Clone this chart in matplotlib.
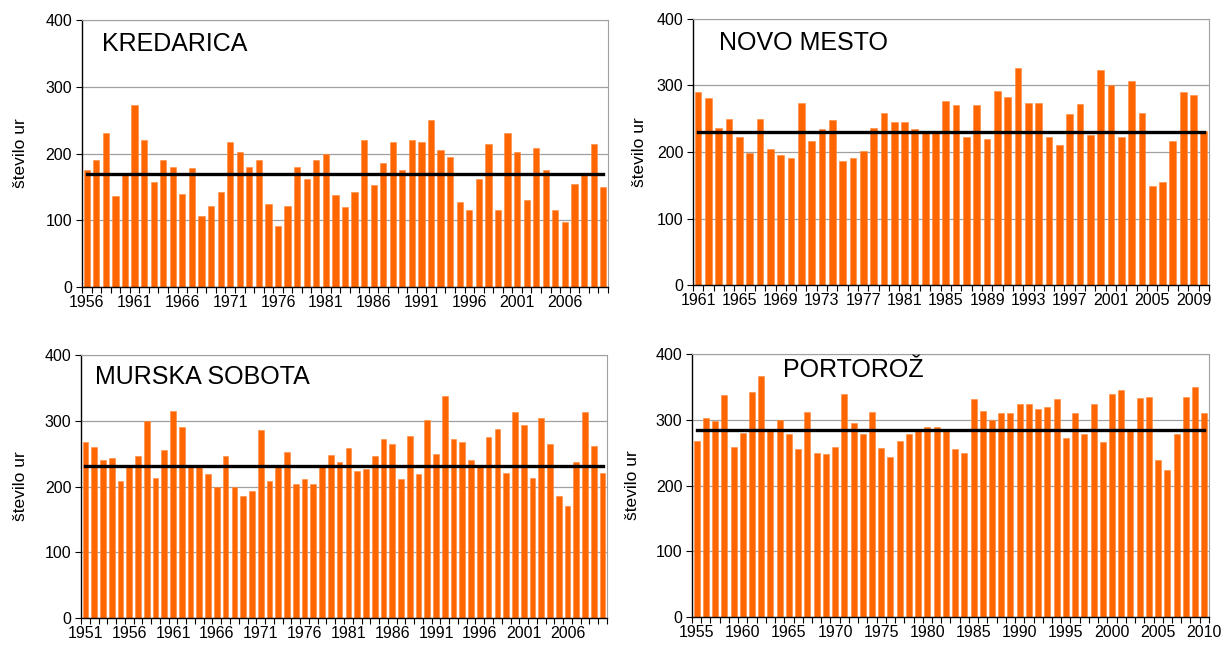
import matplotlib.pyplot as plt
import numpy as np

plt.rcParams['font.family'] = ['Liberation Sans', 'DejaVu Sans']

# sunshine hours (število ur)
kredarica_years = list(range(1956, 2011))
kredarica = [175, 191, 231, 136, 168, 273, 220, 158, 190, 180,
             140, 178, 107, 122, 142, 218, 202, 180, 190, 125,
             92, 122, 180, 162, 191, 200, 138, 120, 142, 220,
             153, 186, 218, 176, 220, 218, 250, 206, 195, 128,
             115, 162, 215, 116, 230, 202, 130, 208, 175, 115,
             97, 155, 171, 215, 150]
kredarica_mean = 169

novo_mesto_years = list(range(1961, 2011))
novo_mesto = [290, 281, 236, 250, 223, 198, 250, 205, 195, 191,
              274, 216, 234, 248, 187, 191, 202, 236, 259, 245,
              245, 234, 229, 229, 277, 270, 223, 270, 220, 292,
              283, 326, 274, 274, 223, 210, 257, 272, 225, 323,
              301, 223, 307, 259, 149, 155, 216, 290, 285, 232]
novo_mesto_mean = 230

murska_years = list(range(1951, 2011))
murska = [267, 260, 240, 243, 209, 231, 246, 299, 213, 255,
          315, 291, 231, 233, 219, 200, 246, 200, 186, 193,
          286, 208, 231, 253, 204, 211, 204, 231, 248, 237,
          258, 224, 226, 246, 273, 264, 211, 277, 219, 301,
          249, 337, 272, 268, 240, 231, 275, 287, 220, 313,
          293, 213, 304, 264, 186, 171, 237, 313, 262, 220]
murska_mean = 231

portoroz_years = list(range(1955, 2011))
portoroz = [268, 302, 298, 337, 258, 280, 342, 366, 283, 300,
            278, 255, 312, 249, 248, 258, 339, 295, 278, 312,
            257, 244, 268, 278, 285, 289, 289, 284, 255, 249,
            331, 313, 299, 310, 310, 324, 324, 317, 320, 331,
            273, 310, 278, 324, 266, 339, 346, 283, 333, 335,
            239, 224, 278, 335, 350, 310]
portoroz_mean = 285

panels = [
    ("KREDARICA", kredarica_years, kredarica, kredarica_mean, 1956, 5,
     [0.0669, 0.5557, 0.4294, 0.4133], (0.038, 0.91), -0.103),
    ("NOVO MESTO", novo_mesto_years, novo_mesto, novo_mesto_mean, 1961, 4,
     [0.5657, 0.5588, 0.4212, 0.4118], (0.05, 0.91), -0.09),
    ("MURSKA SOBOTA", murska_years, murska, murska_mean, 1951, 5,
     [0.0661, 0.0433, 0.4294, 0.4071], (0.027, 0.915), -0.101),
    ("PORTOROŽ", portoroz_years, portoroz, portoroz_mean, 1955, 5,
     [0.5649, 0.0449, 0.4220, 0.4071], (0.176, 0.94), -0.10),
]

fig = plt.figure(figsize=(12.25, 6.46), dpi=100)

for name, years, vals, mean, first_lab, step, rect, tpos, ylab_x in panels:
    ax = fig.add_axes(rect)
    ax.bar(years, vals, width=0.65, color='#ff6600', edgecolor='#ff8a3d',
           linewidth=0.4, zorder=2)
    ax.plot([years[0], years[-1]], [mean, mean], color='black', lw=2.4, zorder=3)

    ax.set_xlim(years[0] - 0.5, years[-1] + 0.5)
    ax.set_ylim(0, 400)
    ax.set_yticks([0, 100, 200, 300, 400])
    ax.yaxis.grid(True, color='#a0a0a0', lw=0.9, zorder=0)
    ax.set_axisbelow(True)

    # labels every few years, tick marks between every bar
    ax.set_xticks(list(range(first_lab, years[-1] + 1, step)))
    ax.set_xticks(np.arange(years[0] - 0.5, years[-1] + 1), minor=True)
    ax.tick_params(axis='x', which='major', length=0, labelsize=11.5, pad=6)
    ax.tick_params(axis='x', which='minor', length=4, width=0.8, direction='out')
    ax.tick_params(axis='y', length=4, width=0.8, labelsize=11.5, pad=3)

    for s in ['top', 'right']:
        ax.spines[s].set_color('#a0a0a0')
    for s in ['left', 'bottom']:
        ax.spines[s].set_color('black')
        ax.spines[s].set_linewidth(1.0)

    ax.set_ylabel("število ur", fontsize=12.5)
    ax.yaxis.set_label_coords(ylab_x, 0.5)
    ax.text(tpos[0], tpos[1], name, transform=ax.transAxes, fontsize=18,
            ha='left', va='center')

fig.savefig('out.png', dpi=100)
